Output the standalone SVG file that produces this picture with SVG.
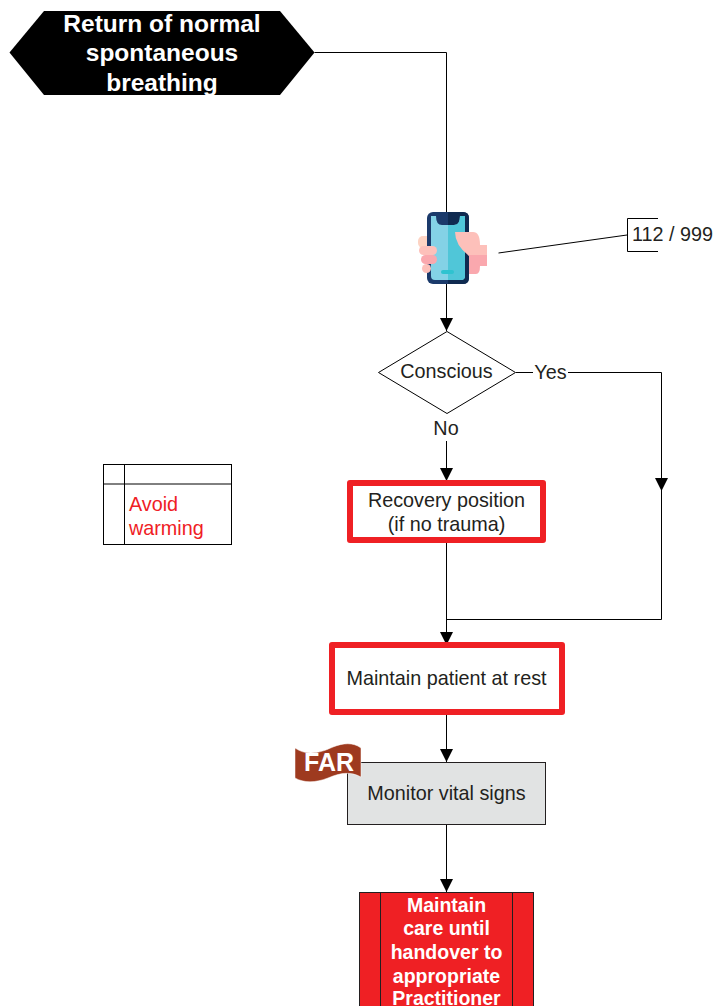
<svg xmlns="http://www.w3.org/2000/svg" width="715" height="1006" viewBox="0 0 715 1006">
<style>
text{font-family:"Liberation Sans",Arial,sans-serif;text-anchor:middle;font-size:19.800px;fill:#231f20}
.b{font-weight:bold;fill:#fff}
.h{font-size:24.500px}
.m{font-size:19.500px}
.c{fill:none;stroke:#000;stroke-width:1}
.r{fill:#fff;stroke:#ef2024;stroke-width:6;stroke-linejoin:round}
</style>
<defs><marker id="a" markerUnits="userSpaceOnUse" markerWidth="14" markerHeight="14" refX="13" refY="6.500" orient="auto"><path d="M0,0L13,6.500L0,13Z" fill="#000"/></marker></defs>
<rect width="715" height="1006" fill="#fff"/>
<g id="connectors">
<path class="c" d="M314.500,52.500H446.500V213"/>
<path class="c" d="M446.500,283V331" marker-end="url(#a)"/>
<path class="c" d="M498.500,253L627,235"/>
<path class="c" d="M516,372.500H533M568,372.500H661.500V619.500H446.500"/>
<path class="c" d="M661.500,457V491" marker-end="url(#a)" stroke-width="1.500"/>
<path class="c" d="M661.500,491V527" stroke-width="1.500"/>
<path class="c" d="M446.500,441V481" marker-end="url(#a)"/>
<path class="c" d="M446.500,541V645" marker-end="url(#a)"/>
<path class="c" d="M446.500,713V762" marker-end="url(#a)"/>
<path class="c" d="M446.500,825V892" marker-end="url(#a)"/>
</g>
<g id="n-start">
<path d="M9.500,52.500L44,11H280L314.500,52.500L280,95H44Z" fill="#000"/>
<text class="b h" x="162" y="31.500">Return of normal</text>
<text class="b h" x="162" y="60.500">spontaneous</text>
<text class="b h" x="162" y="90.500">breathing</text>
</g>
<g id="n-phone">
<rect x="418" y="236" width="14" height="12" rx="5" fill="#fdd3c3"/>
<rect x="427" y="212" width="42" height="72" rx="6" fill="#1b3a6b"/>
<path d="M448,212H463Q469,212 469,218V278Q469,284 463,284H448Z" fill="#0f2a50"/>
<path d="M431,216H436Q436,225 442,225H454Q460,225 460,216H465V276Q465,280 461,280H435Q431,280 431,276Z" fill="#84d2e6"/>
<path d="M448,225H454Q460,225 460,216H465V276Q465,280 461,280H448Z" fill="#50c6d8"/>
<rect x="441" y="270" width="13" height="4" rx="2" fill="#2fc3d0"/>
<path d="M455,232H473Q480,232 480,245H487V256H469Q455,245 455,232Z" fill="#fdc0ba"/>
<path d="M469,255H487V266H480Q480,274 476,274H469Z" fill="#faa8ae"/>
<rect x="419" y="246" width="18" height="9" rx="4.500" fill="#fdc0ba"/>
<rect x="421" y="255" width="16" height="9" rx="4.500" fill="#faa8ae"/>
<rect x="422" y="264" width="9" height="9" rx="4.500" fill="#fdc0ba"/>
</g>
<g id="n-112">
<path d="M658,218.500H627.500V251.500H658" fill="none" stroke="#000"/>
<text x="672.500" y="241">112 / 999</text>
</g>
<g id="n-conscious">
<path d="M378.500,372.500L447,331.500L515.500,372.500L447,413.500Z" fill="#fff" stroke="#000"/>
<text x="446.500" y="378">Conscious</text>
</g>
<text id="l-yes" x="550.500" y="378.500">Yes</text>
<text id="l-no" x="446" y="434.500">No</text>
<g id="n-note">
<rect x="103.500" y="464.500" width="128" height="80" fill="#fff" stroke="#000"/>
<path d="M103.500,484H231.500M124.500,464.500V544.500" fill="none" stroke="#000"/>
<text x="129" y="510.500" style="text-anchor:start;fill:#ef2024">Avoid</text>
<text x="129" y="534.500" style="text-anchor:start;fill:#ef2024">warming</text>
</g>
<g id="n-recovery">
<rect class="r" x="350" y="483" width="193" height="57"/>
<text x="446.500" y="506.500">Recovery position</text>
<text x="446.500" y="530.500">(if no trauma)</text>
</g>
<g id="n-rest">
<rect class="r" x="332" y="645" width="230" height="67"/>
<text x="446.500" y="684.500">Maintain patient at rest</text>
</g>
<g id="n-monitor">
<rect x="347.500" y="762.500" width="198" height="62" fill="#e1e3e3" stroke="#231f20"/>
<text x="446.500" y="799.500">Monitor vital signs</text>
</g>
<g id="n-handover">
<rect x="359.500" y="892.500" width="174" height="116" fill="#ef2024" stroke="#231f20"/>
<path d="M380.500,892.500V1006M512.500,892.500V1006" fill="none" stroke="#231f20"/>
<text class="b m" x="446.500" y="911.500">Maintain</text>
<text class="b m" x="446.500" y="934.500">care until</text>
<text class="b m" x="446.500" y="958.500">handover to</text>
<text class="b m" x="446.500" y="982.500">appropriate</text>
<text class="b m" x="446.500" y="1005">Practitioner</text>
</g>
<g id="n-far">
<path d="M295,748C308,757 322,752 333,747C343,743 353,742 361,748V777C350,771 340,773 328,778C315,783 304,783 295,778Z" fill="#9e3a1f" stroke="#fff" stroke-width=".5"/>
<text class="b" style="font-size:25px" x="329" y="770.500">FAR</text>
</g>
</svg>
